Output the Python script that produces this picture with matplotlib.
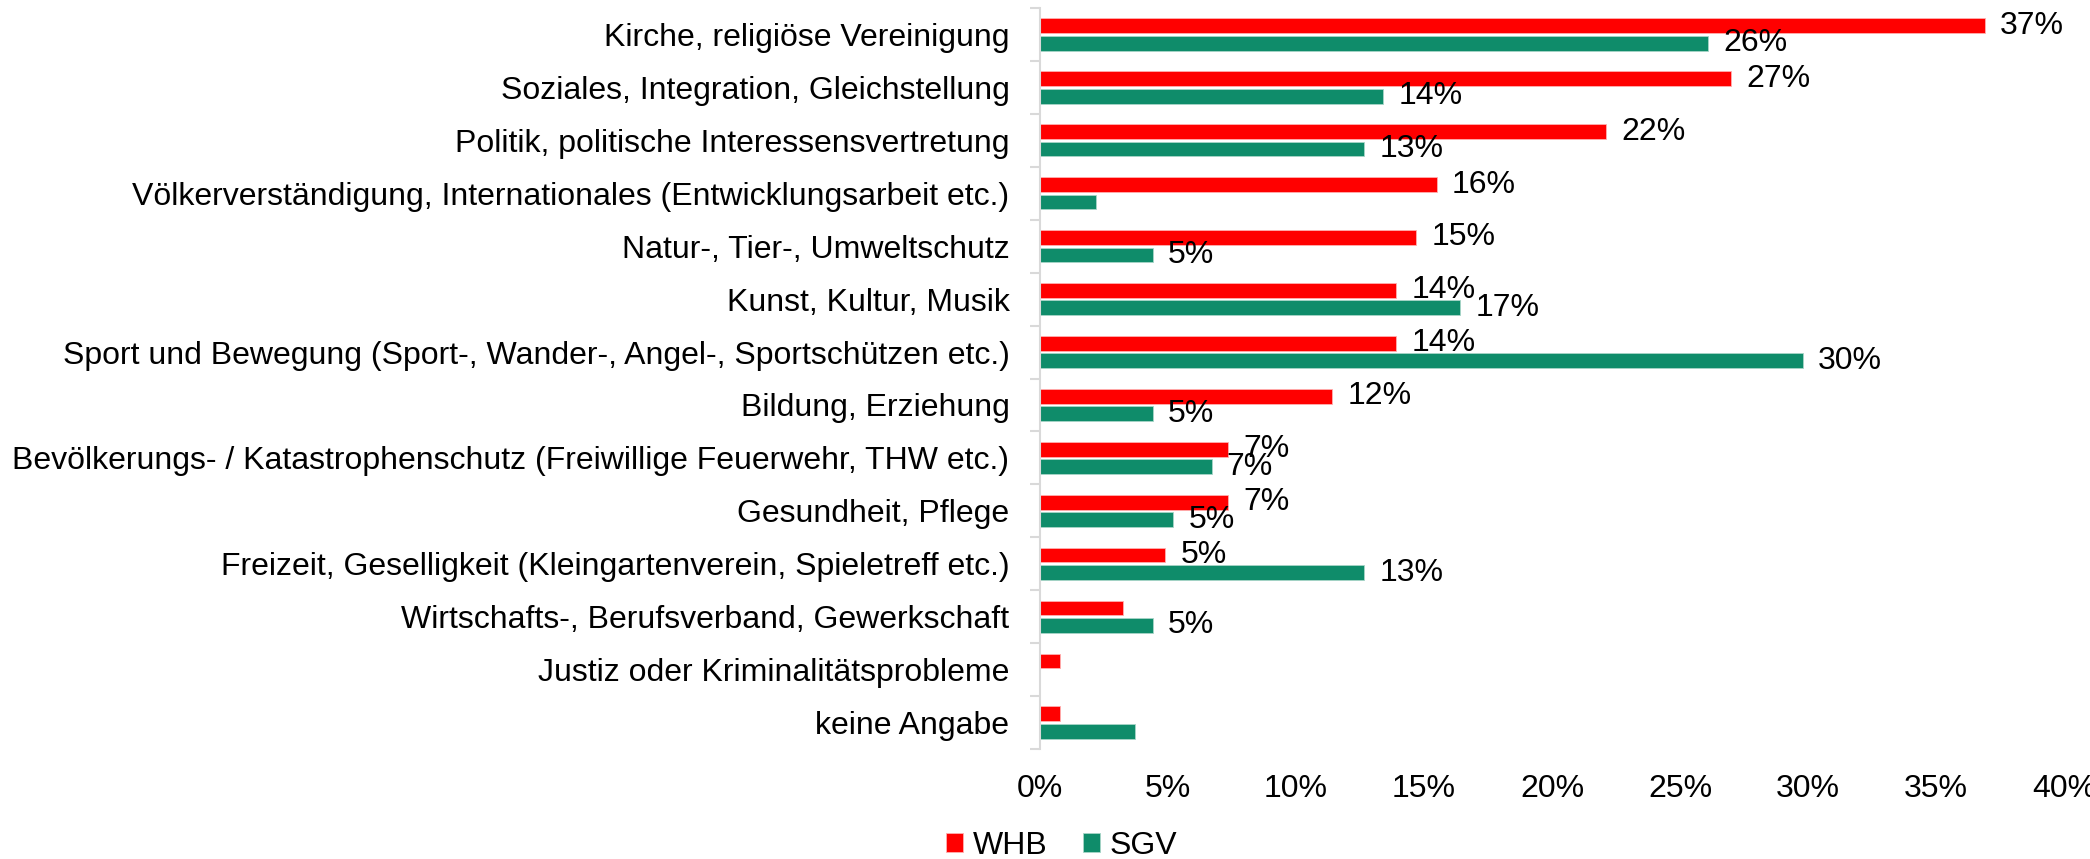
import numpy as np
import matplotlib
matplotlib.use("Agg")
import matplotlib.pyplot as plt
from matplotlib.ticker import FuncFormatter, FixedLocator

plt.rcParams['font.family'] = ['Liberation Sans', 'DejaVu Sans']

categories = [
    "Kirche, religiöse Vereinigung",
    "Soziales, Integration, Gleichstellung",
    "Politik, politische Interessensvertretung",
    "Völkerverständigung, Internationales (Entwicklungsarbeit etc.)",
    "Natur-, Tier-, Umweltschutz",
    "Kunst, Kultur, Musik",
    "Sport und Bewegung (Sport-, Wander-, Angel-, Sportschützen etc.)",
    "Bildung, Erziehung",
    "Bevölkerungs- / Katastrophenschutz (Freiwillige Feuerwehr, THW etc.)",
    "Gesundheit, Pflege",
    "Freizeit, Geselligkeit (Kleingartenverein, Spieletreff etc.)",
    "Wirtschafts-, Berufsverband, Gewerkschaft",
    "Justiz oder Kriminalitätsprobleme",
    "keine Angabe",
]
# values in percent
whb = [36.9, 27.0, 22.1, 15.5, 14.7, 13.9, 13.9, 11.4, 7.35, 7.35, 4.9, 3.25, 0.77, 0.77]
sgv = [26.1, 13.4, 12.65, 2.2, 4.4, 16.4, 29.8, 4.4, 6.7, 5.2, 12.65, 4.4, 0.0, 3.7]
# data labels as shown (small values carry no label)
whb_labels = ["37%", "27%", "22%", "16%", "15%", "14%", "14%", "12%", "7%", "7%", "5%", "", "", ""]
sgv_labels = ["26%", "14%", "13%", "", "5%", "17%", "30%", "5%", "7%", "5%", "13%", "5%", "", ""]

red = "#FF0000"
green = "#0F8C6A"
fs = 23

fig = plt.figure(figsize=(20.9, 8.59), dpi=100)
ax = fig.add_axes([0.4976, 0.128, 0.49, 0.8627])

y = np.arange(len(categories))
h = 0.28
b1 = ax.barh(y - 0.165, whb, height=h, color=red, edgecolor="#FFB0B0", linewidth=0.6, label="WHB")
b2 = ax.barh(y + 0.165, sgv, height=h, color=green, edgecolor="#A8D5C8", linewidth=0.6, label="SGV")
ax.bar_label(b1, labels=whb_labels, padding=11, fontsize=fs)
ax.bar_label(b2, labels=sgv_labels, padding=11, fontsize=fs)

ax.set_ylim(len(categories) - 0.5, -0.5)
ax.set_yticks(y)
ax.set_yticklabels(categories, fontsize=fs)
ax.yaxis.set_minor_locator(FixedLocator(np.arange(-0.5, len(categories), 1)))
ax.tick_params(axis="y", which="major", length=0, pad=22)
ax.tick_params(axis="y", which="minor", length=7, color="#D9D9D9", width=1.5)

ax.set_xlim(0, 40)
ax.set_xticks(np.arange(0, 41, 5))
ax.xaxis.set_major_formatter(FuncFormatter(lambda v, p: f"{v:.0f}%"))
ax.tick_params(axis="x", length=0, pad=18, labelsize=fs)

for s in ["top", "right", "bottom"]:
    ax.spines[s].set_visible(False)
ax.spines["left"].set_color("#D9D9D9")
ax.spines["left"].set_linewidth(1.5)

fig.legend(handles=[b1, b2], labels=["WHB", "SGV"], loc="center", bbox_to_anchor=(0.508, 0.015),
           ncol=2, frameon=False, fontsize=fs, handlelength=0.55, handleheight=0.55,
           handletextpad=0.3, columnspacing=1.1)

fig.savefig("out.png", dpi=100)
